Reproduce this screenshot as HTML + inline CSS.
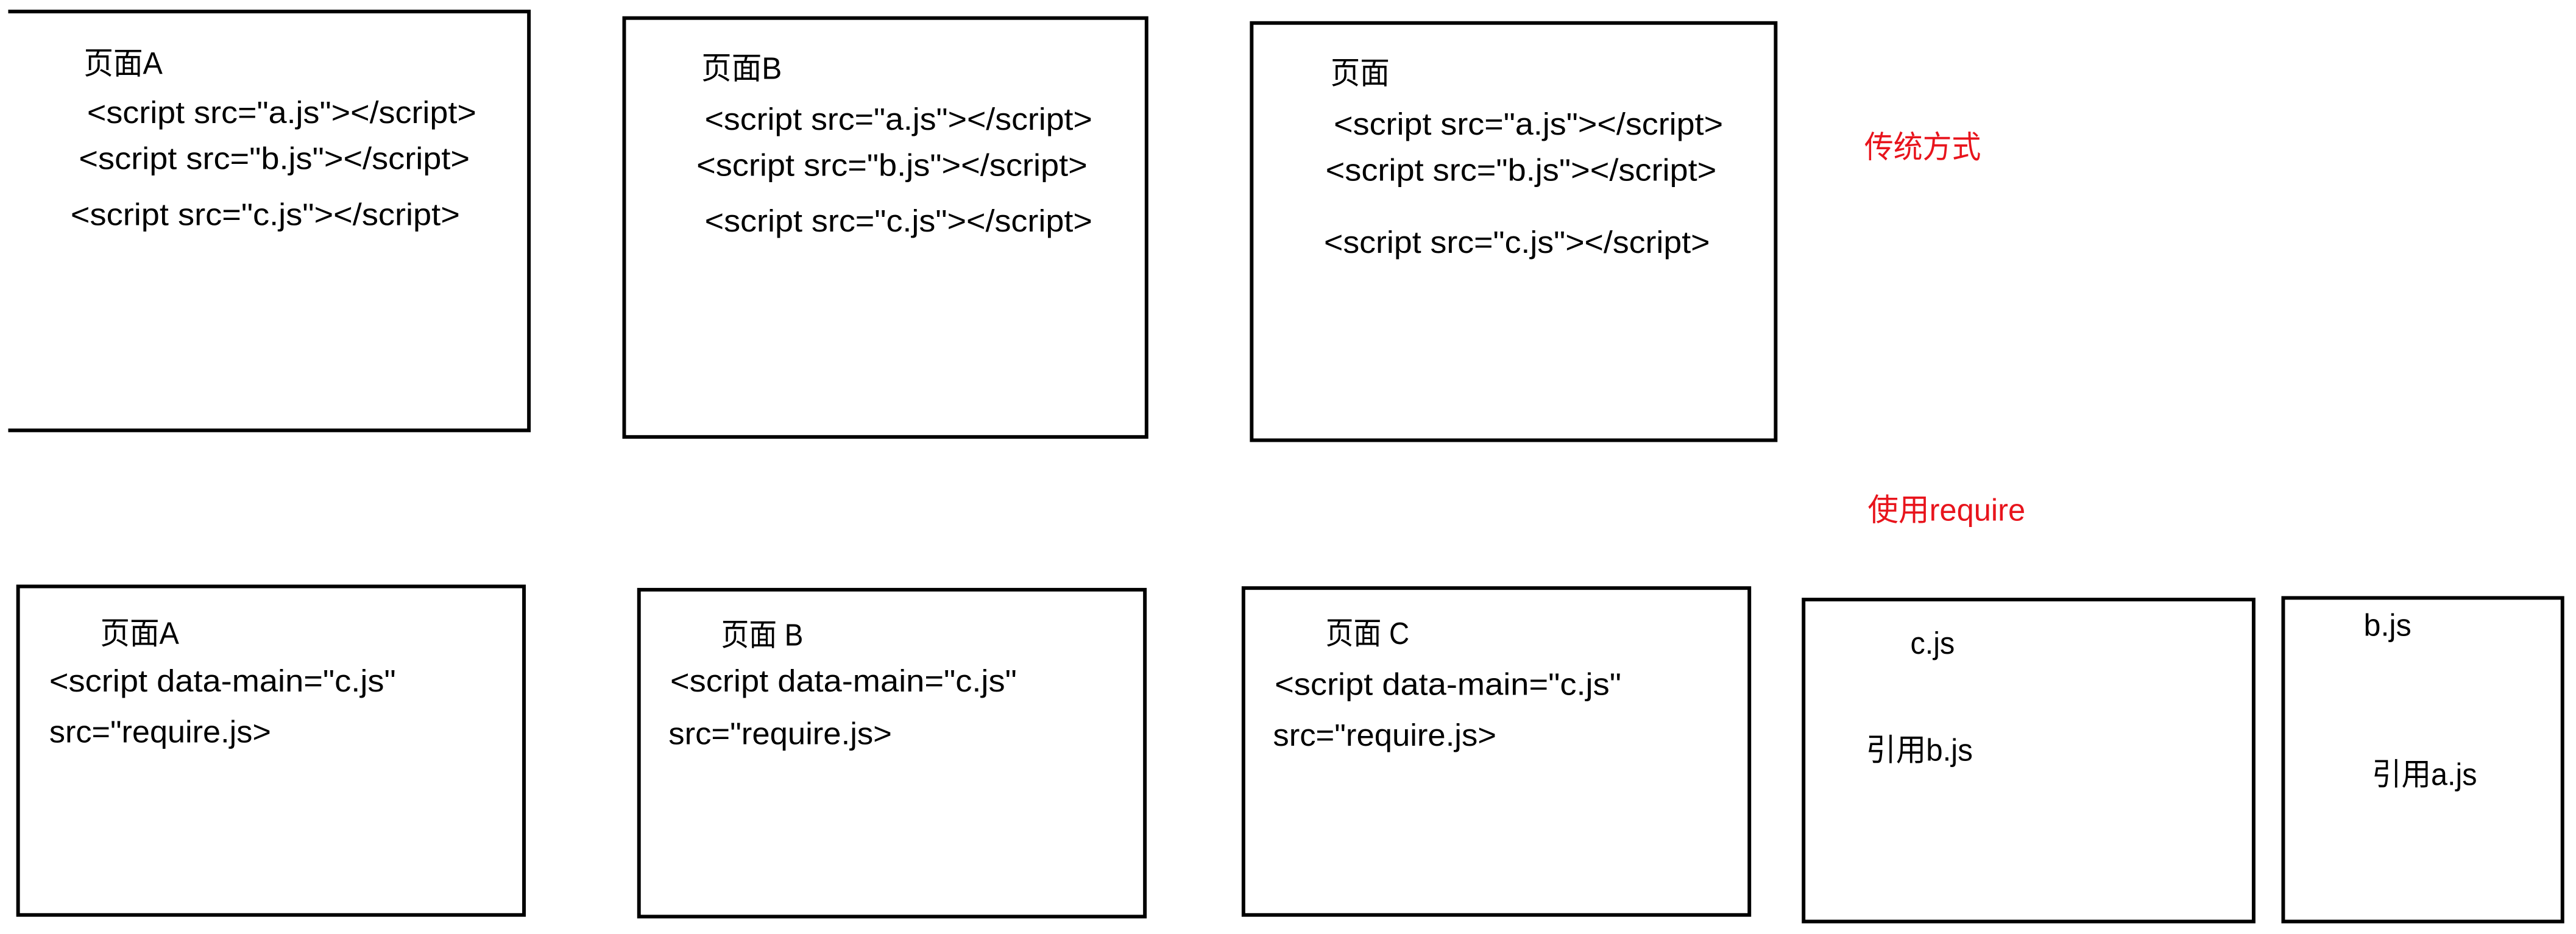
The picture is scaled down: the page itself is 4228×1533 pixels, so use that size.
<!DOCTYPE html>
<html><head><meta charset="utf-8"><style>
html,body{margin:0;padding:0;background:#fff;width:4228px;height:1533px;overflow:hidden}
svg{display:block}
text{font-family:"Liberation Sans","Noto Sans CJK SC",sans-serif;font-size:19px;fill:#000}
.r{fill:#e8141c}
</style></head><body>
<svg width="4228" height="1533" viewBox="0 0 1568.25 568.6" preserveAspectRatio="none" xmlns="http://www.w3.org/2000/svg">
<g fill="none" stroke="#000" stroke-width="2.2">
<polyline points="5,7 322,7 322,262 5,262"/>
<rect x="380" y="11" width="318" height="255"/>
<rect x="762" y="14" width="319" height="254"/>
<rect x="11" y="357" width="308" height="200"/>
<rect x="389" y="359" width="308" height="199"/>
<rect x="757" y="358" width="308" height="199"/>
<rect x="1098" y="365" width="274" height="196"/>
<rect x="1390" y="364" width="170" height="197"/>
</g>
<g>
<text x="51" y="45" textLength="48" lengthAdjust="spacingAndGlyphs">页面A</text>
<text x="53" y="75" textLength="237" lengthAdjust="spacingAndGlyphs">&lt;script src="a.js"&gt;&lt;/script&gt;</text>
<text x="48" y="103" textLength="238" lengthAdjust="spacingAndGlyphs">&lt;script src="b.js"&gt;&lt;/script&gt;</text>
<text x="43" y="137" textLength="237" lengthAdjust="spacingAndGlyphs">&lt;script src="c.js"&gt;&lt;/script&gt;</text>

<text x="427" y="48" textLength="49" lengthAdjust="spacingAndGlyphs">页面B</text>
<text x="429" y="79" textLength="236" lengthAdjust="spacingAndGlyphs">&lt;script src="a.js"&gt;&lt;/script&gt;</text>
<text x="424" y="107" textLength="238" lengthAdjust="spacingAndGlyphs">&lt;script src="b.js"&gt;&lt;/script&gt;</text>
<text x="429" y="141" textLength="236" lengthAdjust="spacingAndGlyphs">&lt;script src="c.js"&gt;&lt;/script&gt;</text>

<text x="810" y="51" textLength="36" lengthAdjust="spacingAndGlyphs">页面</text>
<text x="812" y="82" textLength="237" lengthAdjust="spacingAndGlyphs">&lt;script src="a.js"&gt;&lt;/script&gt;</text>
<text x="807" y="110" textLength="238" lengthAdjust="spacingAndGlyphs">&lt;script src="b.js"&gt;&lt;/script&gt;</text>
<text x="806" y="154" textLength="235" lengthAdjust="spacingAndGlyphs">&lt;script src="c.js"&gt;&lt;/script&gt;</text>

<text class="r" x="1135" y="96" textLength="71" lengthAdjust="spacingAndGlyphs">传统方式</text>
<text class="r" x="1137" y="317" textLength="96" lengthAdjust="spacingAndGlyphs">使用require</text>

<text x="61" y="392" textLength="48" lengthAdjust="spacingAndGlyphs">页面A</text>
<text x="30" y="421" textLength="211" lengthAdjust="spacingAndGlyphs">&lt;script data-main="c.js"</text>
<text x="30" y="452" textLength="135" lengthAdjust="spacingAndGlyphs">src="require.js&gt;</text>

<text x="439" y="393" textLength="50" lengthAdjust="spacingAndGlyphs">页面 B</text>
<text x="408" y="421" textLength="211" lengthAdjust="spacingAndGlyphs">&lt;script data-main="c.js"</text>
<text x="407" y="453" textLength="136" lengthAdjust="spacingAndGlyphs">src="require.js&gt;</text>

<text x="807" y="392" textLength="51" lengthAdjust="spacingAndGlyphs">页面 C</text>
<text x="776" y="423" textLength="211" lengthAdjust="spacingAndGlyphs">&lt;script data-main="c.js"</text>
<text x="775" y="454" textLength="136" lengthAdjust="spacingAndGlyphs">src="require.js&gt;</text>

<text x="1163" y="398" textLength="27" lengthAdjust="spacingAndGlyphs">c.js</text>
<text x="1136" y="463" textLength="65" lengthAdjust="spacingAndGlyphs">引用b.js</text>
<text x="1439" y="387" textLength="29" lengthAdjust="spacingAndGlyphs">b.js</text>
<text x="1444" y="478" textLength="64" lengthAdjust="spacingAndGlyphs">引用a.js</text>
</g>
</svg>
</body></html>
